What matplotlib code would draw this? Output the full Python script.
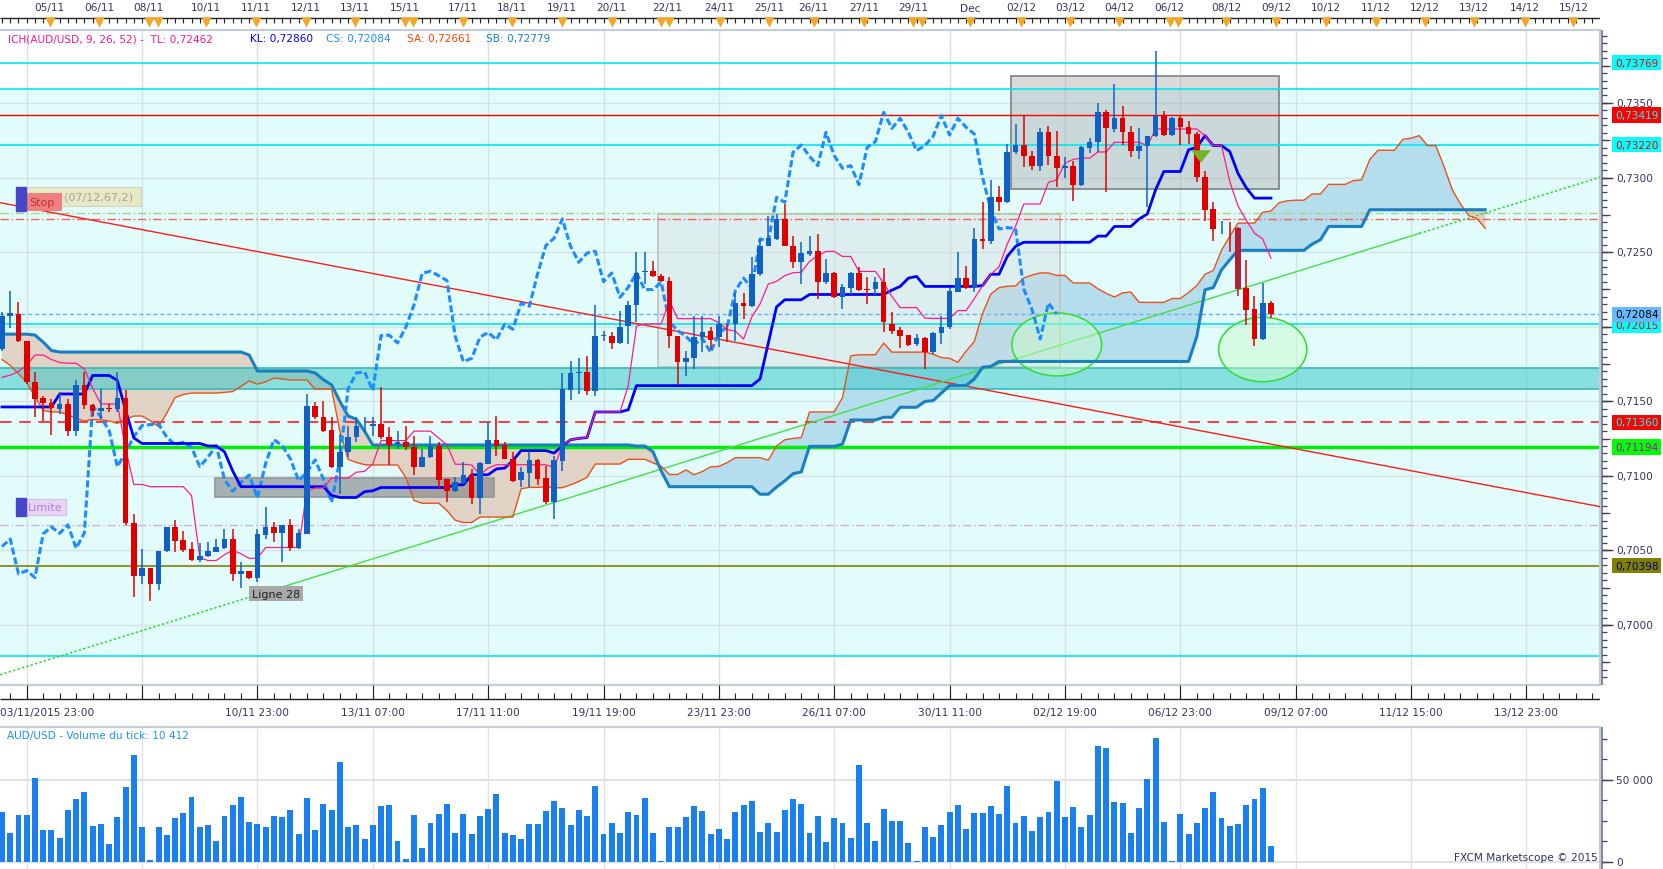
import numpy as np
import matplotlib
matplotlib.use('Agg')
import matplotlib.pyplot as plt
from matplotlib.patches import Rectangle, Ellipse

plt.rcParams['font.family'] = ['DejaVu Sans']

# AUD/USD 4h candles --------------------------------------------------------
opens = [
    0.71851, 0.72070, 0.72086, 0.71905, 0.71632, 0.71523, 0.71487, 0.71449, 0.71482, 0.71304,
    0.71610, 0.71478, 0.71435, 0.71456, 0.71449, 0.71520, 0.70684, 0.70327, 0.70383, 0.70275,
    0.70494, 0.70658, 0.70573, 0.70510, 0.70438, 0.70465, 0.70492, 0.70517, 0.70577, 0.70345,
    0.70365, 0.70318, 0.70606, 0.70658, 0.70615, 0.70671, 0.70515, 0.70611, 0.71467, 0.71393,
    0.71308, 0.71062, 0.71158, 0.71259, 0.71339, 0.71337, 0.71346, 0.71261, 0.71212, 0.71225,
    0.71196, 0.71062, 0.71125, 0.71203, 0.70979, 0.70897, 0.70953, 0.71006, 0.70852, 0.71080,
    0.71243, 0.71207, 0.71114, 0.70975, 0.71017, 0.71107, 0.70986, 0.70823, 0.71102, 0.71578,
    0.71692, 0.71695, 0.71572, 0.71938, 0.71940, 0.71891, 0.72003, 0.72146, 0.72367, 0.72376,
    0.72342, 0.72309, 0.71936, 0.71766, 0.71788, 0.71929, 0.71969, 0.71929, 0.71987, 0.72018,
    0.72157, 0.72137, 0.72354, 0.72544, 0.72588, 0.72722, 0.72539, 0.72432, 0.72488, 0.72506,
    0.72302, 0.72360, 0.72197, 0.72260, 0.72360, 0.72253, 0.72251, 0.72298, 0.72018, 0.71978,
    0.71945, 0.71882, 0.71922, 0.71828, 0.71955, 0.71996, 0.72235, 0.72326, 0.72264, 0.72588,
    0.72577, 0.72867, 0.72834, 0.73169, 0.73218, 0.73142, 0.73080, 0.73303, 0.73147, 0.73062,
    0.73080, 0.72952, 0.73196, 0.73241, 0.73442, 0.73326, 0.73397, 0.73303, 0.73180, 0.73214,
    0.73276, 0.73415, 0.73285, 0.73397, 0.73337, 0.73290, 0.73001, 0.72789, 0.72659, 0.72664,
    0.72662, 0.72258, 0.72119, 0.71918, 0.72159]
highs = [
    0.72097, 0.72240, 0.72164, 0.71905, 0.71695, 0.71538, 0.71516, 0.71561, 0.71516, 0.71646,
    0.71695, 0.71482, 0.71583, 0.71482, 0.71695, 0.71578, 0.70745, 0.70510, 0.70383, 0.70494,
    0.70658, 0.70705, 0.70633, 0.70555, 0.70550, 0.70555, 0.70577, 0.70644, 0.70644, 0.70421,
    0.70365, 0.70644, 0.70790, 0.70689, 0.70671, 0.70711, 0.70644, 0.71550, 0.71494, 0.71505,
    0.71393, 0.71281, 0.71337, 0.71393, 0.71393, 0.71393, 0.71594, 0.71326, 0.71304, 0.71333,
    0.71270, 0.71181, 0.71270, 0.71230, 0.70979, 0.70991, 0.71091, 0.71047, 0.71091, 0.71359,
    0.71404, 0.71230, 0.71158, 0.71058, 0.71169, 0.71114, 0.71069, 0.71136, 0.71690, 0.71773,
    0.71791, 0.71802, 0.72146, 0.71974, 0.71963, 0.72108, 0.72175, 0.72499, 0.72499, 0.72443,
    0.72354, 0.72331, 0.71936, 0.71840, 0.72074, 0.72074, 0.71996, 0.72074, 0.72018, 0.72226,
    0.72226, 0.72465, 0.72588, 0.72745, 0.72756, 0.72823, 0.72611, 0.72566, 0.72611, 0.72622,
    0.72454, 0.72365, 0.72287, 0.72365, 0.72398, 0.72331, 0.72331, 0.72394, 0.72097, 0.71996,
    0.71945, 0.71951, 0.71929, 0.71962, 0.72074, 0.72257, 0.72499, 0.72405, 0.72659, 0.72834,
    0.72986, 0.72946, 0.73225, 0.73359, 0.73415, 0.73180, 0.73330, 0.73343, 0.73310, 0.73136,
    0.73113, 0.73209, 0.73267, 0.73498, 0.73455, 0.73627, 0.73478, 0.73343, 0.73330, 0.73281,
    0.73851, 0.73448, 0.73404, 0.73415, 0.73381, 0.73303, 0.73046, 0.72834, 0.72711, 0.72700,
    0.72667, 0.72448, 0.72204, 0.72293, 0.72175]
lows = [
    0.71840, 0.71990, 0.71896, 0.71617, 0.71393, 0.71371, 0.71277, 0.71415, 0.71270, 0.71270,
    0.71449, 0.71404, 0.71382, 0.71426, 0.71426, 0.70671, 0.70190, 0.70275, 0.70160, 0.70238,
    0.70488, 0.70488, 0.70488, 0.70432, 0.70421, 0.70454, 0.70488, 0.70510, 0.70298, 0.70250,
    0.70309, 0.70287, 0.70577, 0.70555, 0.70421, 0.70499, 0.70510, 0.70611, 0.71382, 0.71292,
    0.71051, 0.70879, 0.71125, 0.71225, 0.71292, 0.71270, 0.71248, 0.71073, 0.71181, 0.71172,
    0.71006, 0.71058, 0.71118, 0.70912, 0.70823, 0.70890, 0.70946, 0.70812, 0.70745, 0.71080,
    0.71136, 0.71114, 0.70957, 0.70924, 0.70924, 0.70939, 0.70812, 0.70711, 0.71035, 0.71509,
    0.71547, 0.71543, 0.71538, 0.71907, 0.71851, 0.71885, 0.71884, 0.72030, 0.72287, 0.72331,
    0.72298, 0.71855, 0.71609, 0.71667, 0.71717, 0.71828, 0.71851, 0.71862, 0.71900, 0.71907,
    0.72052, 0.72130, 0.72342, 0.72539, 0.72584, 0.72539, 0.72392, 0.72287, 0.72477, 0.72186,
    0.72287, 0.72190, 0.72119, 0.72219, 0.72242, 0.72152, 0.72213, 0.71963, 0.71951, 0.71858,
    0.71873, 0.71873, 0.71717, 0.71817, 0.71884, 0.71985, 0.72230, 0.72253, 0.72230, 0.72521,
    0.72554, 0.72778, 0.72829, 0.73158, 0.73068, 0.73053, 0.73046, 0.73084, 0.72934, 0.72995,
    0.72845, 0.72946, 0.73165, 0.73169, 0.72901, 0.73308, 0.73218, 0.73136, 0.73124, 0.72800,
    0.73270, 0.73281, 0.73281, 0.73218, 0.73225, 0.72968, 0.72711, 0.72577, 0.72622, 0.72499,
    0.72204, 0.72012, 0.71873, 0.71913, 0.72056]
closes = [
    0.72075, 0.72090, 0.71903, 0.71628, 0.71516, 0.71487, 0.71453, 0.71480, 0.71304, 0.71610,
    0.71476, 0.71438, 0.71453, 0.71449, 0.71520, 0.70684, 0.70327, 0.70383, 0.70275, 0.70494,
    0.70658, 0.70566, 0.70503, 0.70438, 0.70465, 0.70496, 0.70526, 0.70577, 0.70343, 0.70365,
    0.70318, 0.70611, 0.70658, 0.70615, 0.70671, 0.70515, 0.70618, 0.71471, 0.71393, 0.71304,
    0.71062, 0.71158, 0.71263, 0.71337, 0.71344, 0.71348, 0.71259, 0.71210, 0.71225, 0.71192,
    0.71062, 0.71125, 0.71203, 0.70975, 0.70897, 0.70957, 0.71006, 0.70852, 0.71084, 0.71243,
    0.71203, 0.71114, 0.70968, 0.71024, 0.71107, 0.70979, 0.70823, 0.71107, 0.71583, 0.71690,
    0.71697, 0.71572, 0.71940, 0.71943, 0.71891, 0.71996, 0.72146, 0.72358, 0.72372, 0.72342,
    0.72309, 0.71936, 0.71766, 0.71788, 0.71929, 0.71962, 0.71913, 0.72016, 0.71983, 0.72157,
    0.72137, 0.72354, 0.72544, 0.72593, 0.72722, 0.72539, 0.72432, 0.72494, 0.72506, 0.72302,
    0.72360, 0.72197, 0.72264, 0.72360, 0.72249, 0.72249, 0.72298, 0.72030, 0.71974, 0.71936,
    0.71878, 0.71922, 0.71828, 0.71958, 0.71996, 0.72242, 0.72326, 0.72259, 0.72588, 0.72577,
    0.72867, 0.72834, 0.73169, 0.73218, 0.73142, 0.73080, 0.73303, 0.73147, 0.73062, 0.73080,
    0.72952, 0.73203, 0.73241, 0.73437, 0.73330, 0.73397, 0.73303, 0.73180, 0.73214, 0.73276,
    0.73415, 0.73285, 0.73397, 0.73337, 0.73292, 0.73001, 0.72785, 0.72655, 0.72664, 0.72659,
    0.72253, 0.72115, 0.71918, 0.72159, 0.72084]
volumes = [
    30500, 17500, 28700, 28700, 51000, 19300, 19700, 14500, 31700, 38600,
    42600, 21700, 22900, 10800, 27700, 45600, 65500, 21100, 1000, 21100,
    16300, 26900, 29900, 39600, 21100, 22300, 12700, 28100, 34700, 39600,
    24500, 23300, 21100, 28100, 27500, 31700, 16900, 39000, 19300, 35300,
    31700, 61200, 21500, 22700, 13900, 22700, 34100, 34700, 13100, 1600,
    28700, 8800, 23500, 29300, 35300, 17900, 29300, 16900, 28300, 32300,
    41400, 17500, 16300, 13900, 23300, 23300, 31100, 37100, 32900, 22300,
    31700, 28100, 46200, 17300, 23900, 17900, 30700, 28700, 39200, 17500,
    400, 21100, 21100, 27700, 34100, 31100, 16900, 20300, 13900, 30500,
    34700, 37100, 18500, 23900, 18500, 31700, 38400, 35300, 17900, 28100,
    12400, 26900, 23900, 14900, 59400, 23900, 13100, 32300, 25100, 25100,
    11400, 400, 21500, 15500, 22700, 30500, 34700, 20300, 29900, 29900,
    34100, 29300, 46200, 23900, 28100, 19100, 27500, 30500, 49200, 27500,
    33500, 21500, 28700, 70900, 69700, 36500, 35900, 17900, 32900, 50400,
    75700, 24500, 400, 29300, 17300, 23900, 32900, 42600, 26900, 22100,
    23300, 34700, 38400, 45000, 10000]

# ichimoku values before the visible history is long enough
tenkan_early = [0.71660, 0.71675, 0.71700, 0.71740, 0.71810, 0.71810, 0.71780, 0.71760]
kijun_early = ([0.71462] * 7 + [0.71549] * 4 + [0.71673] * 3 +
               [0.71640, 0.71440, 0.71254] + [0.71217] * 8)
senkou_a_early = [
    0.71780, 0.71740, 0.71685, 0.71629, 0.71530, 0.71440, 0.71428, 0.71428, 0.71410, 0.71385,
    0.71368, 0.71378, 0.71375, 0.71368, 0.71352, 0.71380, 0.71401, 0.71401, 0.71370, 0.71330,
    0.71420, 0.71525, 0.71545, 0.71555, 0.71555, 0.71555, 0.71555, 0.71560, 0.71565, 0.71600,
    0.71636, 0.71615, 0.71630, 0.71656, 0.71650, 0.71643, 0.71643, 0.71643, 0.71582, 0.71582,
    0.71582, 0.71300, 0.71110, 0.71090, 0.71075, 0.71073, 0.71073, 0.71073, 0.71073, 0.70990,
    0.70835]
senkou_b_early = ([0.71950] * 4 + [0.71944, 0.71897, 0.71840] + [0.71830] * 23 + [0.71810] +
                  [0.71703] * 7 + [0.71690, 0.71645, 0.71610, 0.71500, 0.71401, 0.71380, 0.71300] +
                  [0.71207] * 32)

# horizontal levels drawn on the chart
levels = [  # price, colour, width, style
    (0.73769, '#00e8f0', 1.2, '-'),
    (0.73595, '#00e8f0', 1.2, '-'),
    (0.73419, '#ff0000', 1.0, '-'),
    (0.73220, '#00e8f0', 1.2, '-'),
    (0.72760, '#a8d080', 1.0, (0, (6, 2, 1, 2))),
    (0.72722, '#ff5a5a', 1.0, (0, (6, 2, 1, 2))),
    (0.72084, '#60b0ff', 1.0, (0, (3, 2))),
    (0.72015, '#00e8f0', 1.2, '-'),
    (0.71360, '#ff2020', 1.2, (0, (7, 4.5))),
    (0.71194, '#00ee00', 2.5, '-'),
    (0.70672, '#cdb0dc', 1.0, (0, (6, 2, 1, 2))),
    (0.70398, '#808000', 1.2, '-'),
    (0.69792, '#00e8f0', 1.2, '-'),
]
zone_low, zone_high = 0.69792, 0.73595
band_low, band_high = 0.71584, 0.71720

price_labels = [  # price, text, background, text colour
    (0.73769, '0,73769', '#00ffff', '#ff0000'),
    (0.73419, '0,73419', '#ff0000', '#00ffff'),
    (0.73220, '0,73220', '#00ffff', '#ff0000'),
    (0.72010, '0,72015', '#00ffff', '#ff0000'),
    (0.72084, '0,72084', '#66b8ff', '#000000'),
    (0.71360, '0,71360', '#ff0000', '#00ffff'),
    (0.71194, '0,71194', '#00ff00', '#c000c0'),
    (0.70398, '0,70398', '#808000', '#000080'),
]

red_idx, red_price = [0, 190], [0.72829, 0.70835]
green_idx, green_price = [30, 172], [0.70186, 0.72625]

boxes = [  # idx from, idx to, price low, price high, face, alpha, edge
    (79.6, 128.4, 0.71733, 0.72756, '#d6d6d6', 0.35, '#c0c0c0'),
    (122.5, 155.0, 0.72923, 0.73683, '#a8a8a8', 0.42, '#808080'),
    (25.9, 59.7, 0.70858, 0.70986, '#808080', 0.6, '#909898'),
]
circles = [(128.0, 0.71881, 10.9, 0.00422), (153.0, 0.71847, 10.7, 0.00432)]

top_labels = ['05/11', '06/11', '08/11', '10/11', '11/11', '12/11', '13/11', '15/11', '17/11',
              '18/11', '19/11', '20/11', '22/11', '24/11', '25/11', '26/11', '27/11', '29/11',
              'Dec', '02/12', '03/12', '04/12', '06/12', '08/12', '09/12', '10/12', '11/12',
              '12/12', '13/12', '14/12', '15/12']
top_label_idx = [5.8, 11.8, 17.8, 24.8, 30.8, 36.9, 42.8, 48.9, 55.9, 61.9, 68.0, 74.0, 80.7,
                 87.1, 93.1, 98.5, 104.6, 110.6, 117.5, 123.7, 129.6, 135.6, 141.7, 148.6,
                 154.6, 160.7, 166.7, 172.7, 178.6, 184.8, 190.7]
marker_idx = [5.8, 11.8, 17.8, 18.9, 24.8, 30.8, 36.9, 42.8, 48.9, 49.9, 55.9, 61.9, 68.0,
              74.0, 80.0, 81.0, 87.1, 93.1, 98.5, 104.6, 110.6, 111.6, 117.5, 123.7, 129.6,
              135.6, 141.7, 142.7, 148.6, 154.6, 160.7, 166.7, 172.7, 178.6, 184.8, 190.7]
bottom_labels = ['03/11/2015 23:00', '10/11 23:00', '13/11 07:00', '17/11 11:00', '19/11 19:00',
                 '23/11 23:00', '26/11 07:00', '30/11 11:00', '02/12 19:00', '06/12 23:00',
                 '09/12 07:00', '11/12 15:00', '13/12 23:00']
grid_idx = [3, 17, 31, 45, 59, 73, 87, 101, 115, 129, 143, 157, 171, 185]

# ---------------------------------------------------------------------------
FW, FH = 1663, 870
W = 1600 / FW
XLIM = (-2 / 8.24, 1598 / 8.24)
YLIM = (0.69598, 0.73991)
BULL, BEAR = '#0f62c4', '#e00000'
TXT = '#34345c'

O, H, L, C = map(np.array, (opens, highs, lows, closes))
n = len(C)
idx = np.arange(n)


def midpoint(i, period):
    return (H[i - period + 1:i + 1].max() + L[i - period + 1:i + 1].min()) / 2


# ichimoku lines from the candles once there is enough history
tenkan = np.array(tenkan_early + [midpoint(i, 9) for i in range(8, n)])
kijun = np.array(kijun_early + [midpoint(i, 26) for i in range(25, n)])
senkou_a = np.array(senkou_a_early + [(tenkan[i] + kijun[i]) / 2 for i in range(25, n)])
senkou_b = np.array(senkou_b_early + [midpoint(i, 52) for i in range(51, n)])
cloud_idx = np.arange(len(senkou_a))

fig = plt.figure(figsize=(FW / 100, FH / 100), dpi=100)
fig.patch.set_facecolor('white')

# main price panel -----------------------------------------------------------
ax = fig.add_axes([0, 1 - 686 / FH, W, (686 - 30.7) / FH])
ax.set_xlim(*XLIM)
ax.set_ylim(*YLIM)
ax.set_xticks([])
ax.set_yticks([])
ax.set_facecolor('white')
ax.spines['left'].set_visible(False)
for s in ['top', 'right', 'bottom']:
    ax.spines[s].set_color('#c4ccd6')
    ax.spines[s].set_linewidth(1.6)

ax.axhspan(zone_low, zone_high, color='#e2fcfc', lw=0, zorder=0)
for p in np.arange(0.7000, 0.7351, 0.005):
    ax.axhline(p, color='#d4e2e6', lw=1, zorder=0.5)
for g in grid_idx:
    ax.axvline(g, color='#d4e0e4', lw=1, zorder=0.5)

ax.fill_between(cloud_idx, senkou_a, senkou_b, where=senkou_a >= senkou_b, interpolate=True,
                color='#b4deee', lw=0, zorder=1)
ax.fill_between(cloud_idx, senkou_a, senkou_b, where=senkou_a < senkou_b, interpolate=True,
                color='#e0d2c4', lw=0, zorder=1)

for x0, x1, p0, p1, face, alpha, edge in boxes:
    ax.add_patch(Rectangle((x0, p0), x1 - x0, p1 - p0, facecolor=face, alpha=alpha,
                           edgecolor='none', zorder=1.5))
    ax.add_patch(Rectangle((x0, p0), x1 - x0, p1 - p0, facecolor='none', edgecolor=edge,
                           lw=1.2, zorder=1.6))

ax.axhspan(band_low, band_high, facecolor='#3cc8c8', alpha=0.55, lw=0, zorder=2)
ax.axhline(band_low, color='#3ab8b8', lw=1.2, zorder=2)
ax.axhline(band_high, color='#3ab8b8', lw=1.2, zorder=2)

for p, col, lw, ls in levels:
    ax.axhline(p, color=col, lw=lw, ls=ls, zorder=2.5)

# trend lines
ax.axline((red_idx[0], red_price[0]), (red_idx[1], red_price[1]), color='#ff1a1a', lw=1, zorder=2.6)
slope = (green_price[1] - green_price[0]) / (green_idx[1] - green_idx[0])
ax.plot(green_idx, green_price, color='#44e044', lw=1, zorder=2.6)
ax.plot([XLIM[0], green_idx[0]], [green_price[0] + slope * (XLIM[0] - green_idx[0]), green_price[0]],
        color='#22dd22', lw=1.1, ls=(0, (1.5, 1.5)), zorder=2.6)
ax.plot([green_idx[1], XLIM[1]], [green_price[1], green_price[1] + slope * (XLIM[1] - green_idx[1])],
        color='#22dd22', lw=1.1, ls=(0, (1.5, 1.5)), zorder=2.6)

for cx, cy, w, h in circles:
    ax.add_patch(Ellipse((cx, cy), w, h, facecolor='#c8ffc8', alpha=0.45, edgecolor='none', zorder=2.7))
    ax.add_patch(Ellipse((cx, cy), w, h, facecolor='none', edgecolor='#30dd30', lw=1.1, zorder=2.7))

# ichimoku
ax.plot(cloud_idx, senkou_a, color='#e8501a', lw=1.0, zorder=3)
ax.plot(cloud_idx, senkou_b, color='#1a7fc0', lw=2.2, zorder=3)
ax.plot(idx[:n - 26], C[26:], color='#1c8cff', lw=2.2, ls=(0, (2.3, 1.0)), zorder=3.2)
ax.plot(idx, kijun, color='#0000ff', lw=2.0, zorder=3.3)
ax.plot(idx, tenkan, color='#ff1a8c', lw=0.9, zorder=3.4)

# candles
cols = np.where(C >= O, BULL, BEAR)
cols[150] = '#b0203a'
ax.vlines(idx, L, H, colors=cols, lw=1.1, zorder=4)
ax.bar(idx, np.maximum(np.abs(C - O), 0.00004), bottom=np.minimum(O, C), width=0.68,
       color=cols, lw=0, zorder=4.1)

# arrow signal
ax.annotate('', xy=(145.5, 0.73080), xytext=(145.5, 0.73200),
            arrowprops=dict(arrowstyle='simple,head_width=1.4,head_length=0.9,tail_width=0.7',
                            color='#70b428', lw=0), zorder=6)

# order labels
lab = dict(fontsize=8, va='center', ha='left', zorder=8)
ax.add_patch(Rectangle((2.9, 0.72809), 14.0, 0.00128, facecolor='#e6e8c6', edgecolor='#d4d4b4',
                       lw=0.8, zorder=7))
ax.text(7.5, 0.72876, '(07/12,67,2)', color='#a8a888', **lab)
ax.add_patch(Rectangle((2.9, 0.72776), 4.4, 0.00118, facecolor='#f08080', edgecolor='none', zorder=7.5))
ax.text(3.3, 0.72834, 'Stop', color='#c03030', **lab)
ax.add_patch(Rectangle((1.7, 0.72776), 1.25, 0.00161, color='#4646c8', zorder=9))
ax.text(3.2, 0.70790, 'Limite', color='#b080d0',
        bbox=dict(boxstyle='square,pad=0.25', fc='#e8d4f4', ec='#d8c0e8'), **lab)
ax.add_patch(Rectangle((1.7, 0.70731), 1.25, 0.00121, color='#4646c8', zorder=9))
ax.text(30.3, 0.70211, 'Ligne 28', color='#202020',
        bbox=dict(boxstyle='square,pad=0.25', fc='#a8a8a8', ec='none'), **lab)

# header
head_y = 1 - 39 / FH
for x, s, c in [(7.7, 'ICH(AUD/USD, 9, 26, 52) -  TL: 0,72462', '#ff1493'),
                (250, 'KL: 0,72860', '#0000ff'), (326, 'CS: 0,72084', '#1e90ff'),
                (407, 'SA: 0,72661', '#ff4500'), (486, 'SB: 0,72779', '#1a80c8')]:
    fig.text(x / FW, head_y, s, color=c, fontsize=7.6, va='center', ha='left')

# right price scale -----------------------------------------------------------
axr = fig.add_axes([W, 1 - 686 / FH, 1 - W, (686 - 30.7) / FH])
axr.set_xlim(0, FW - 1600)
axr.set_ylim(*YLIM)
axr.axis('off')
axr.axvline(2, color='#8088a0', lw=1.4)
for p in np.arange(0.6960, 0.7400, 0.0005):
    axr.hlines(p, 2, 7, color='#404050', lw=0.9)
for p in np.arange(0.6975, 0.7400, 0.0025):
    axr.hlines(p, 2, 10, color='#404050', lw=0.9)
for p in np.arange(0.7000, 0.7351, 0.005):
    axr.hlines(p, 2, 13, color='#404050', lw=1.0)
    if abs(p - 0.7200) < 1e-6:
        continue  # hidden behind the current-price boxes
    axr.text(16, p, f'{p:.4f}'.replace('.', ','), fontsize=7.6, color=TXT, va='center', ha='left')
for p, s, bg, fg in price_labels:
    axr.text(15, p, s, fontsize=7.6, color=fg, va='center', ha='left', zorder=5,
             bbox=dict(boxstyle='square,pad=0.25', fc=bg, ec='none'))

# top date strip --------------------------------------------------------------
axt = fig.add_axes([0, 1 - 30.7 / FH, W, 30.7 / FH])
axt.set_xlim(*XLIM)
axt.set_ylim(30.7, 0)
axt.axis('off')
axt.hlines(19, XLIM[0], XLIM[1], color='#202020', lw=1)
axt.vlines(np.arange(0, 194), 19, 24, color='#202020', lw=0.8)
axt.scatter(marker_idx, [23] * len(marker_idx), marker='v', s=55, color='#f5a623', lw=0, zorder=3)
for s, x in zip(top_labels, top_label_idx):
    axt.text(x, 8.5, s, fontsize=7.6, color=TXT, ha='center', va='center')

# bottom time strip -----------------------------------------------------------
axb = fig.add_axes([0, 1 - 728 / FH, W, 42 / FH])
axb.set_xlim(*XLIM)
axb.set_ylim(728, 686)
axb.axis('off')
axb.hlines(700, XLIM[0], XLIM[1], color='#202020', lw=1)
axb.vlines(np.arange(1, 194, 2), 694, 700, color='#202020', lw=0.8)
axb.vlines(grid_idx, 686, 700, color='#202020', lw=0.8)
axb.text(XLIM[0] + 0.05, 713, bottom_labels[0], fontsize=7.6, color=TXT, ha='left', va='center')
for s, x in zip(bottom_labels[1:], grid_idx[2:]):
    axb.text(x, 713, s, fontsize=7.6, color=TXT, ha='center', va='center')

# volume panel ----------------------------------------------------------------
VLIM = (-4270, 82300)
axv = fig.add_axes([0, 0, W, 142 / FH])
axv.set_xlim(*XLIM)
axv.set_ylim(*VLIM)
axv.set_xticks([])
axv.set_yticks([])
axv.spines['left'].set_visible(False)
axv.spines['bottom'].set_visible(False)
for s in ['top', 'right']:
    axv.spines[s].set_color('#c4ccd6')
    axv.spines[s].set_linewidth(1.6)
for g in grid_idx:
    axv.axvline(g, color='#dde3e6', lw=1, zorder=0)
axv.axhline(50000, color='#d8dde0', lw=1.2, zorder=0)
axv.axhline(0, color='#d8dde0', lw=1.2, zorder=0)
axv.bar(idx, volumes, width=0.72, color='#1a80f0', lw=0, zorder=2)
axv.text(0.6, 77500, 'AUD/USD - Volume du tick: 10 412', fontsize=7.6, color='#1e90ff',
         ha='left', va='center')
axv.text(XLIM[1] - 0.3, 0, 'FXCM Marketscope © 2015', fontsize=7.6, color='#303060',
         ha='right', va='bottom')

axvr = fig.add_axes([W, 0, 1 - W, 142 / FH])
axvr.set_xlim(0, FW - 1600)
axvr.set_ylim(*VLIM)
axvr.axis('off')
axvr.axvline(2, color='#8088a0', lw=1.4)
for v in range(0, 80001, 12500):
    axvr.hlines(v, 2, 7, color='#404050', lw=0.9)
for v, s in [(0, '0'), (50000, '50 000')]:
    axvr.hlines(v, 2, 13, color='#404050', lw=1.0)
    axvr.text(16, v, s, fontsize=7.6, color=TXT, ha='left', va='center')

fig.savefig('out.png', dpi=100, facecolor='white')
